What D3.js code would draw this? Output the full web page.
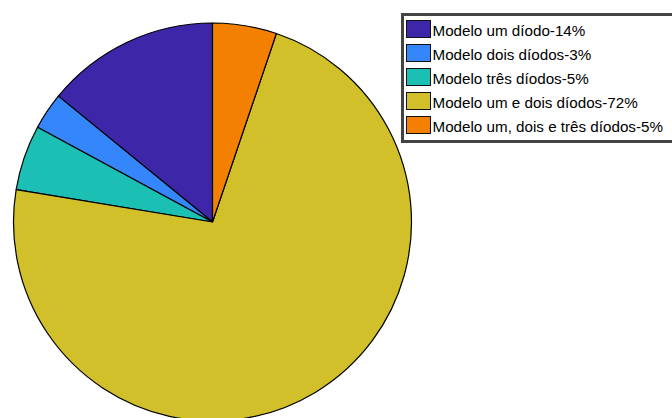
<!DOCTYPE html>
<html>
<head>
<meta charset="utf-8">
<script src="https://cdn.jsdelivr.net/npm/d3@7"></script>
<style>
  body { margin: 0; background: #fff; }
  svg { display: block; }
</style>
</head>
<body>
<div id="chart"></div>
<script>
// data, counter-clockwise from 12 o'clock
const labels = [
  "Modelo um díodo-14%",
  "Modelo dois díodos-3%",
  "Modelo três díodos-5%",
  "Modelo um e dois díodos-72%",
  "Modelo um, dois e três díodos-5%"
];
const values = [14.1, 3.0, 5.3, 72.4, 5.2];
const colors = ["#3e26a8", "#3586fa", "#1bbfb4", "#d2c02b", "#f38000"];

const width = 672, height = 418;
const cx = 212.5, cy = 222, r = 199;

const svg = d3.select("#chart").append("svg")
  .attr("width", width)
  .attr("height", height);

const pie = d3.pie().sort(null).startAngle(0).endAngle(-2 * Math.PI);
const arc = d3.arc().innerRadius(0).outerRadius(r);

svg.append("g")
  .attr("transform", "translate(" + cx + "," + cy + ")")
  .selectAll("path")
  .data(pie(values))
  .join("path")
  .attr("d", arc)
  .attr("fill", (d, i) => colors[i])
  .attr("stroke", "#000")
  .attr("stroke-width", 1.2)
  .attr("stroke-linejoin", "round");

// legend
const lx = 401, ly = 13, rowH = 24;
const legend = svg.append("g");
legend.append("rect")
  .attr("x", lx + 1.5).attr("y", ly + 1.5)
  .attr("width", 300).attr("height", 127)
  .attr("fill", "#fff")
  .attr("stroke", "#444")
  .attr("stroke-width", 3);

const row = legend.selectAll("g.row")
  .data(labels)
  .join("g")
  .attr("class", "row")
  .attr("transform", (d, i) => "translate(" + (lx + 5) + "," + (ly + 7 + i * rowH) + ")");

row.append("rect")
  .attr("x", 0.5).attr("y", 0.5)
  .attr("width", 24).attr("height", 17)
  .attr("fill", (d, i) => colors[i])
  .attr("stroke", "#111")
  .attr("stroke-width", 1);

row.append("text")
  .attr("x", 26.5)
  .attr("y", 15.5)
  .attr("font-family", "Liberation Sans, Arial, sans-serif")
  .attr("font-size", 15.2)
  .attr("fill", "#000")
  .text(d => d);
</script>
</body>
</html>
